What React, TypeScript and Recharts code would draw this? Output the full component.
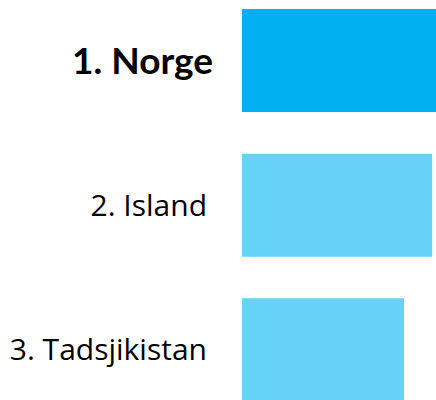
import { BarChart, Bar, XAxis, YAxis, Cell } from "recharts";

const countries = ["1. Norge", "2. Island", "3. Tadsjikistan"];
const values = [100, 98, 83.5];
const colors = ["#00B0F0", "#66D2F7", "#66D2F7"];

const data = countries.map((name, i) => ({ name, value: values[i] }));

const CountryTick = (props: any) => {
  const { x, y, payload, index } = props;
  const first = index === 0;
  return (
    <text
      x={first ? x + 1 : x - 5}
      y={y}
      dy="0.36em"
      textAnchor="end"
      fontFamily={first ? "Lato, sans-serif" : "'Open Sans', sans-serif"}
      fontSize={first ? 37 : 30}
      fontWeight={first ? 700 : 400}
      fill="#000"
    >
      {payload.value}
    </text>
  );
};

const App = () => {
  return (
    <>
      <style>{"body{margin:0}"}</style>
      <div style={{ position: "relative", width: 436, height: 400, overflow: "hidden", background: "#fff" }}>
        <div style={{ position: "absolute", top: -12, left: 0 }}>
          <BarChart
            width={436}
            height={434}
            data={data}
            layout="vertical"
            margin={{ top: 0, right: 0, bottom: 0, left: 0 }}
          >
            <XAxis type="number" domain={[0, 100]} hide />
            <YAxis
              type="category"
              dataKey="name"
              width={242}
              axisLine={false}
              tickLine={false}
              tickSize={0}
              tickMargin={30}
              tick={<CountryTick />}
            />
            <Bar dataKey="value" barSize={103} isAnimationActive={false}>
              {data.map((d, i) => (
                <Cell key={d.name} fill={colors[i]} />
              ))}
            </Bar>
          </BarChart>
        </div>
      </div>
    </>
  );
};

export default App;
